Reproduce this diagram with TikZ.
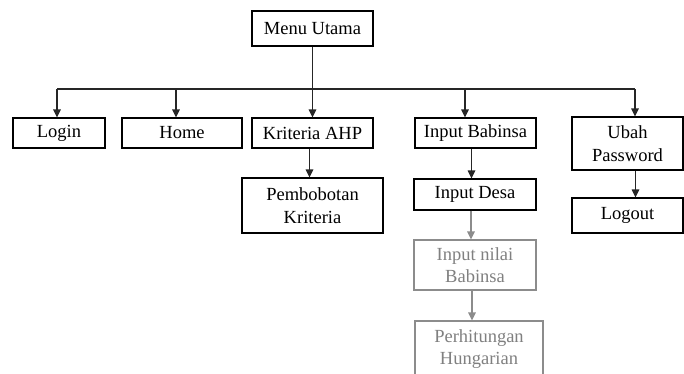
\documentclass[tikz,border=0pt]{standalone}
\usepackage{fontspec}
\setmainfont{Liberation Serif}
\usetikzlibrary{arrows.meta}

\definecolor{fadetext}{gray}{0.50}
\definecolor{fadeline}{gray}{0.55}

\tikzset{
  menubox/.style={draw=black, line width=1.1pt, inner sep=0pt, align=center,
    font=\fontsize{18.5}{22.5}\selectfont, text=black},
  fadebox/.style={menubox, draw=fadeline, text=fadetext},
  arr/.style={line width=1.1pt, draw=black!85, -{Triangle[length=8pt,width=7.5pt]}},
  fadearr/.style={arr, draw=fadeline, -{Triangle[length=8pt,width=7.5pt,fill=fadeline]}},
  busline/.style={line width=1.1pt, draw=black!85}
}

\begin{document}
\begin{tikzpicture}[x=1pt,y=-1pt]
  \useasboundingbox (0,0) rectangle (684,373);
  \fill[white] (0,0) rectangle (684,373);

  % top level
  \node[menubox, minimum width=121pt, minimum height=35pt] (menu) at (312.5,28.5) {Menu Utama};

  % first row
  \node[menubox, minimum width=92pt,  minimum height=30pt] (login)  at (59,133)    {Login};
  \node[menubox, minimum width=120pt, minimum height=30pt] (home)   at (182,133)   {Home};
  \node[menubox, minimum width=121pt, minimum height=30pt] (ahp)    at (312.5,133) {Kriteria AHP};
  \node[menubox, minimum width=121pt, minimum height=30pt] (babin)  at (475.5,133) {Input Babinsa};
  \node[menubox, minimum width=111pt, minimum height=53pt] (ubah)   at (627.5,143.5) {Ubah\\Password};

  % second level
  \node[menubox, minimum width=141pt, minimum height=55pt] (bobot)  at (312.5,205.5) {Pembobotan\\Kriteria};
  \node[menubox, minimum width=122pt, minimum height=31pt] (desa)   at (475,194.5)   {Input Desa};
  \node[menubox, minimum width=111pt, minimum height=35pt] (logout) at (627.5,215.5) {Logout};
  \node[fadebox, minimum width=122pt, minimum height=50pt] (nilai)  at (475,265)     {Input nilai\\Babinsa};
  \node[fadebox, minimum width=128pt, minimum height=56pt] (hung)   at (479,349)     {Perhitungan\\Hungarian};

  % bus from the main menu
  \coordinate (bL) at (57,89);
  \coordinate (bH) at (176,89);
  \coordinate (bB) at (465,89);
  \coordinate (bU) at (635,89);
  \coordinate (bM) at (312.5,89);

  \draw[busline] (bL) -- (bU);
  \draw[busline] (menu.south) -- (bM);
  \draw[arr] (bM) -- (ahp.north);
  \draw[arr] (bL) -- (bL |- login.north);
  \draw[arr] (bH) -- (bH |- home.north);
  \draw[arr] (bB) -- (bB |- babin.north);
  \draw[arr] (bU) -- (bU |- ubah.north);

  % sub menus
  \draw[arr] ([xshift=-3pt]ahp.south) -- ([xshift=-3pt]ahp.south |- bobot.north);
  \draw[arr] ([xshift=-4pt]babin.south) -- ([xshift=-4pt]babin.south |- desa.north);
  \draw[arr] ([xshift=8pt]ubah.south) -- ([xshift=8pt]ubah.south |- logout.north);
  \draw[fadearr] ([xshift=-4pt]desa.south) -- ([xshift=-4pt]desa.south |- nilai.north);
  \draw[fadearr] ([xshift=-3pt]nilai.south) -- ([xshift=-3pt]nilai.south |- hung.north);
\end{tikzpicture}
\end{document}
